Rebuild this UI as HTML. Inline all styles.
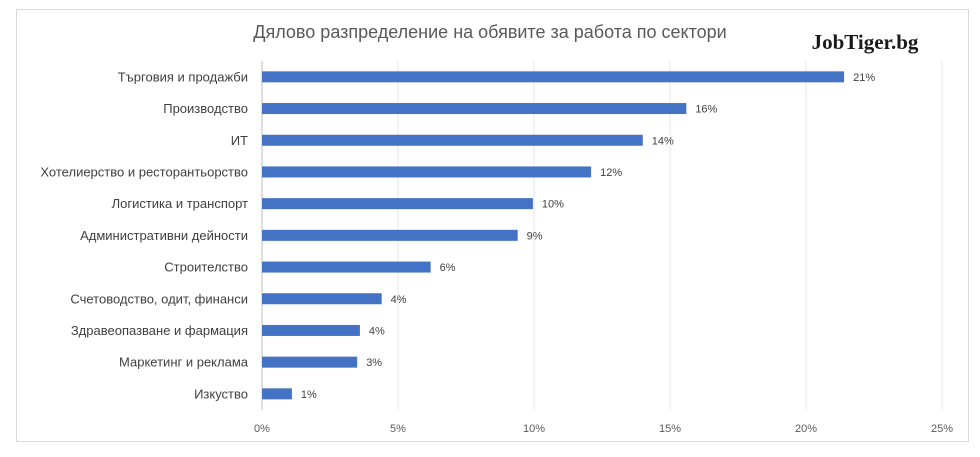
<!DOCTYPE html>
<html><head><meta charset="utf-8"><style>
body{margin:0;background:#fff;width:980px;height:452px;overflow:hidden}
svg{font-family:"Liberation Sans","DejaVu Sans",sans-serif}
</style></head><body>
<svg id="c" width="980" height="452">
<rect x="16.5" y="9.5" width="952" height="432" fill="#fff" stroke="#d9d9d9"/>
<text x="490" y="38" text-anchor="middle" font-size="18" fill="#595959">Дялово разпределение на обявите за работа по сектори</text>
<text x="865" y="49" text-anchor="middle" font-size="21" font-weight="bold" fill="#1a1a1a" font-family="Liberation Serif,serif">JobTiger.bg</text>
<g id="grid"></g><g id="bars"></g><g id="labels"></g>
</svg>
<script>
const categories=["Търговия и продажби","Производство","ИТ","Хотелиерство и ресторантьорство","Логистика и транспорт","Административни дейности","Строителство","Счетоводство, одит, финанси","Здравеопазване и фармация","Маркетинг и реклама","Изкуство"];
const values=[21.4,15.6,14.0,12.1,9.96,9.4,6.2,4.4,3.6,3.5,1.1];
const valueLabels=["21%","16%","14%","12%","10%","9%","6%","4%","4%","3%","1%"];
const ticks=[0,5,10,15,20,25];
const tickLabels=["0%","5%","10%","15%","20%","25%"];
const NS="http://www.w3.org/2000/svg";
const x0=262,x1=942,yTop=61,step=31.7;
const xs=v=>x0+(x1-x0)*v/25;
const ys=i=>yTop+step*(i+0.5);
function mk(t,a,p){const e=document.createElementNS(NS,t);for(const k in a)e.setAttribute(k,a[k]);document.getElementById(p).appendChild(e);return e;}
ticks.forEach((t,i)=>{
 const l=mk('line',{x1:xs(t),x2:xs(t),y1:yTop,y2:yTop+step*categories.length,stroke:i==0?'#bfbfbf':'#e6e6e6'},'grid');
 
 
 const tx=mk('text',{x:xs(t),y:432,'text-anchor':'middle','font-size':11,fill:'#595959'},'labels');
 tx.textContent=tickLabels[i];
 
 
});
categories.forEach((c,i)=>{
 const y=ys(i);
 const b=mk('rect',{x:x0,y:y-5.5,width:xs(values[i])-x0,height:11,fill:'#4472c4'},'bars');
 
 
 const t=mk('text',{x:248,y:y+4.5,'text-anchor':'end','font-size':13,fill:'#404040'},'labels');
 t.textContent=c;
 
 
 const v=mk('text',{x:xs(values[i])+9,y:y+4,'font-size':11,fill:'#404040'},'labels');
 v.textContent=valueLabels[i];
 
 
});
</script>
</body></html>
